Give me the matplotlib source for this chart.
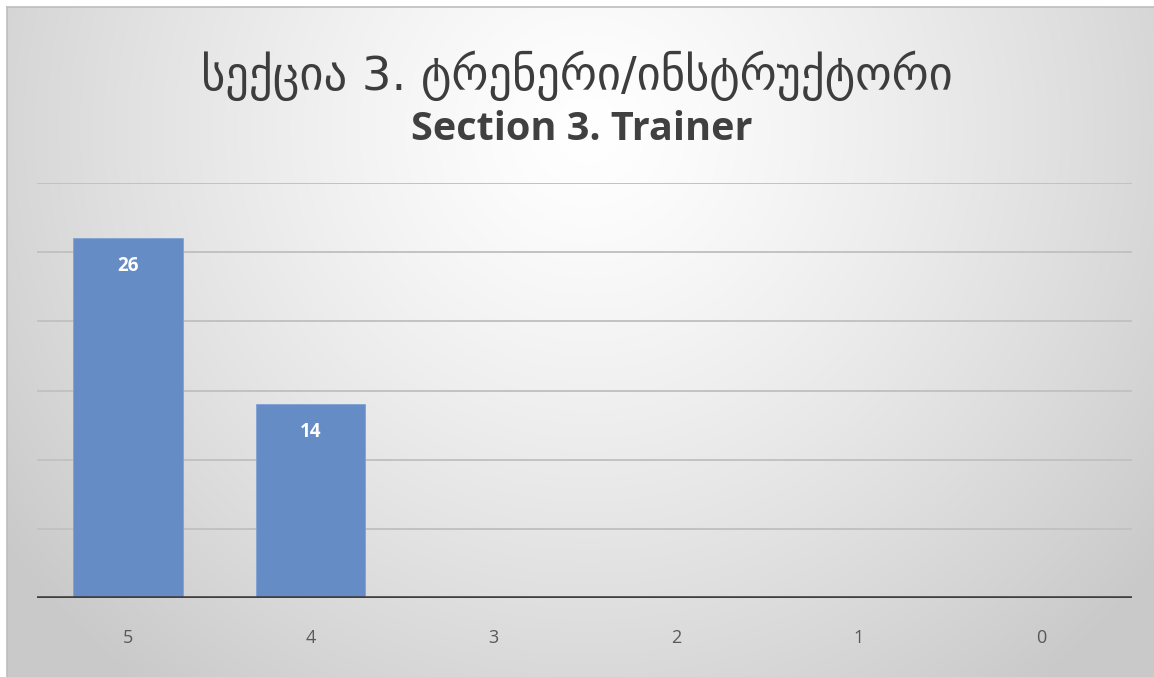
import numpy as np
import matplotlib
matplotlib.use("Agg")
import matplotlib.pyplot as plt

categories = ["5", "4", "3", "2", "1", "0"]
values = [26, 14, 0, 0, 0, 0]
title_ka = "სექცია 3. ტრენერი/ინსტრუქტორი"
title_en = "Section 3. Trainer"

W, H = 1154, 677
fig = plt.figure(figsize=(W / 100, H / 100), dpi=100)
fig.patch.set_facecolor("white")

# background gradient panel
bx0, by1 = 7 / W, 1 - 7 / H
bg = fig.add_axes([bx0, -0.01, 1 - bx0 + 0.01, by1 + 0.01], zorder=0)
ny, nx = 300, 500
yy, xx = np.mgrid[0:ny, 0:nx]
cx, cy = nx * 0.5, ny * 0.18
r = np.sqrt(((xx - cx) / (nx * 0.62)) ** 2 + ((yy - cy) / (ny * 1.05)) ** 2)
r = np.clip(r, 0, 1)
lo, hi = 0.79, 1.0
val = hi - (hi - lo) * r ** 1.3
img = np.dstack([val, val, val])
bg.imshow(img, aspect="auto", extent=[0, 1, 0, 1], origin="upper",
          interpolation="bilinear")
bg.set_xlim(0, 1)
bg.set_ylim(0, 1)
bg.axis("off")
bg.plot([0, 0], [0, 1], color="#bdbdbd", lw=1.2, transform=bg.transAxes, clip_on=False)
bg.plot([0, 1], [1, 1], color="#bdbdbd", lw=1.2, transform=bg.transAxes, clip_on=False)

# main axes
left, right = 36.7 / W, 1132.3 / W
bottom, top = 1 - 598 / H, 1 - 183 / H
ax = fig.add_axes([left, bottom, right - left, top - bottom], zorder=2)
ax.set_facecolor("none")
x = np.arange(len(categories))
ax.set_xlim(-0.5, len(categories) - 0.5)
ax.set_ylim(0, 30)
ax.set_yticks(np.arange(5, 31, 5))
for yv in np.arange(5, 31, 5):
    ax.axhline(yv, color="#c2c2c2", lw=1.4, zorder=1)
bars = ax.bar(x, values, width=0.6, color="#658cc5", edgecolor="#7fa2d3", lw=0.6, zorder=2)
ax.axhline(0, color="#3f3f3f", lw=2.6, zorder=3)
for xi, v in zip(x, values):
    if v > 0:
        ax.annotate(str(v), (xi, v), xytext=(0, -20), textcoords="offset points",
                    ha="center", va="center", color="white", fontsize=13.5,
                    fontweight="bold", family="Open Sans")
for s in ax.spines.values():
    s.set_visible(False)
ax.set_xticks(x)
ax.set_xticklabels(categories, family="Open Sans", fontsize=13, color="#595959")
ax.tick_params(axis="x", length=0, pad=22)
ax.tick_params(axis="y", length=0, labelleft=False)

fig.text(577 / W, 1 - 76 / H, title_ka, ha="center", va="center",
         fontsize=33.5, color="#3d3d3d", family=["DejaVu Sans"])
fig.text(582 / W, 1 - 130 / H, title_en, ha="center", va="center",
         fontsize=28.5, color="#404040", fontweight="bold", family="Open Sans")

fig.savefig("out.png", dpi=100)
